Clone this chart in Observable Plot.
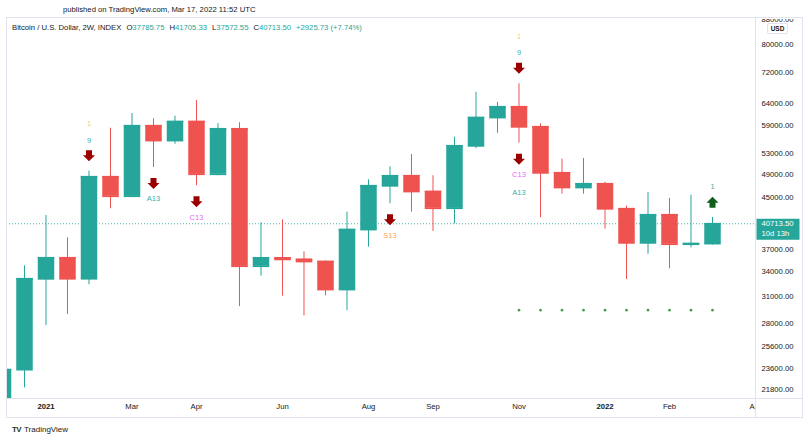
<!DOCTYPE html>
<html><head><meta charset="utf-8">
<script src="https://cdn.jsdelivr.net/npm/d3@7"></script>
<script src="https://cdn.jsdelivr.net/npm/@observablehq/plot@0.6"></script>
<style>
body{margin:0;background:#fff;font-family:"Liberation Sans",Arial,sans-serif;color:#131722}
#wrap{position:relative;width:808px;height:440px;overflow:hidden;background:#fff}
#chart{position:absolute;left:0;top:0}
.abs{position:absolute;white-space:nowrap}
#pub{left:63px;top:5px;font-size:7.7px;line-height:10px;color:#131722}
#legend{left:12px;top:23px;font-size:7.7px;line-height:10px;display:flex;gap:5px}
#legend .v{color:#26a69a}
#usd{left:767px;top:23px;width:21px;height:11px;box-sizing:border-box;border:1px solid #e0e3eb;border-radius:2px;background:#fff;font-size:6.5px;font-weight:bold;text-align:center;line-height:9px;color:#131722}
#logo{left:12px;top:425px;font-size:8px;line-height:10px;color:#131722}
#logo b{letter-spacing:-0.6px;margin-right:3px;color:#1b3a2a}
</style></head><body>
<div id="wrap">
  <div id="chart"></div>
  <div class="abs" style="left:756px;top:0;width:50px;height:19px;background:#fff"></div>
  <div class="abs" style="left:756px;top:399px;width:46px;height:18px;background:#fff"></div>
  <div class="abs" style="left:6px;top:17px;width:797px;height:401px;box-sizing:border-box;border:1px solid #e0e3eb"></div>
  <div class="abs" style="left:755px;top:17px;width:1px;height:400px;background:#e0e3eb"></div>
  <div class="abs" style="left:6px;top:398px;width:796px;height:1px;background:#e0e3eb"></div>
  <div class="abs" id="pub">published on TradingView.com, Mar 17, 2022 11:52 UTC</div>
  <div class="abs" id="legend"></div>
  <div class="abs" id="usd">USD</div>
  <div class="abs" id="logo"><b>TV</b>TradingView</div>
</div>
<script>
// ---- data (2-week candles, Bitcoin / U.S. Dollar INDEX) ----
const dates = ["2020-12-07","2020-12-21","2021-01-04","2021-01-18","2021-02-01","2021-02-15","2021-03-01","2021-03-15","2021-03-29","2021-04-12","2021-04-26","2021-05-10","2021-05-24","2021-06-07","2021-06-21","2021-07-05","2021-07-19","2021-08-02","2021-08-16","2021-08-30","2021-09-13","2021-09-27","2021-10-11","2021-10-25","2021-11-08","2021-11-22","2021-12-06","2021-12-20","2022-01-03","2022-01-17","2022-01-31","2022-02-14","2022-02-28","2022-03-14"];
const opens  = [19150,23500,33090,35810,33100,48600,45170,58900,55710,59850,49070,58220,34700,35800,35600,35320,31780,39840,46980,48780,45980,43170,54610,60760,63260,58670,49330,46680,47330,43080,37890,42110,37700,37785.75];
const highs  = [23600,34750,42000,38600,49630,58360,61680,60470,61060,64780,59400,59570,40860,41330,36630,35400,42530,48050,50470,52850,48780,56410,66830,64290,68990,59340,51930,52060,47600,43500,45800,44780,45340,41705.33];
const lows   = [17600,21940,27750,28930,32350,43080,45000,50320,54940,46980,48780,29800,33420,30990,28780,31040,29330,37270,43890,42530,39550,40700,54000,57270,55150,41640,45510,45510,39890,33000,36300,34360,37190,37572.55];
const closes = [23500,33090,35810,33100,48600,45170,58900,55710,59850,49070,58220,34700,35800,35600,35320,31780,39840,46980,48780,45980,43170,54610,60760,63260,58670,49330,46680,47330,43080,37890,42110,37700,37787.77,40713.50];

// TD-sequential style annotations (candle indices)
const setupOrangeIdx = [4, 24];        // small orange "1"
const setupNineIdx = [4, 24];          // teal "9"
const sellArrowAboveIdx = [4, 24];
const sellArrowBelowIdx = [7, 9, 18, 24];
const countdownIdx = [7, 9, 18, 24, 24];
const countdownText = ["A13", "C13", "S13", "C13", "A13"];
const buyArrowIdx = [33];
const buyCountText = ["1"];
const dotIdx = [24, 25, 26, 27, 28, 29, 30, 31, 32, 33];
const dotLevel = 29400;

// axis ticks
const yTicks = [21800, 23600, 25600, 28000, 31000, 34000, 37000, 45000, 49000, 53000, 59000, 64000, 72000, 80000, 88000];
const xTickDates = ["2021-01-04","2021-03-01","2021-04-12","2021-06-07","2021-08-02","2021-09-13","2021-11-08","2022-01-03","2022-02-14","2022-04-11"];
const xTickLabels = ["2021","Mar","Apr","Jun","Aug","Sep","Nov","2022","Feb","Apr"];
const remainingText = "10d 13h";

// ---- build ----
const GREEN = "#26a69a", RED = "#ef5350", TEAL_T = "#3aaea3", PURPLE = "#dd6ff3", ORANGE = "#ffa64d";
const candles = dates.map((d, i) => ({i, date: new Date(d), open: opens[i], high: highs[i], low: lows[i], close: closes[i]}));
const ups = candles.filter(c => c.close >= c.open);
const downs = candles.filter(c => c.close < c.open);
const last = candles[candles.length - 1];
const prev = candles[candles.length - 2];

const fmt = d3.format(".2f");
const chg = last.close - prev.close;
document.getElementById("legend").innerHTML =
  `<span>Bitcoin / U.S. Dollar, 2W, INDEX</span>` +
  `<span>O<span class="v">${fmt(last.open)}</span></span>` +
  `<span>H<span class="v">${fmt(last.high)}</span></span>` +
  `<span>L<span class="v">${fmt(last.low)}</span></span>` +
  `<span>C<span class="v">${fmt(last.close)}</span></span>` +
  `<span class="v">${chg >= 0 ? "+" : ""}${fmt(chg)} (${chg >= 0 ? "+" : ""}${fmt(chg / prev.close * 100)}%)</span>`;

const arrowDown = {draw(ctx) {
  ctx.moveTo(-3, -5.5); ctx.lineTo(3, -5.5); ctx.lineTo(3, -0.5); ctx.lineTo(6, -0.5);
  ctx.lineTo(0, 5.5); ctx.lineTo(-6, -0.5); ctx.lineTo(-3, -0.5); ctx.closePath();
}};
const arrowUp = {draw(ctx) {
  ctx.moveTo(-3, 5.5); ctx.lineTo(3, 5.5); ctx.lineTo(3, 0.5); ctx.lineTo(6, 0.5);
  ctx.lineTo(0, -5.5); ctx.lineTo(-6, 0.5); ctx.lineTo(-3, 0.5); ctx.closePath();
}};
const bodyBar = {draw(ctx) { ctx.rect(-8.25, -0.9, 16.5, 1.8); }};
const priceBox = {draw(ctx) { ctx.rect(1, -5, 43, 21); }};

const byIdx = idx => idx.map(i => candles[i]);
const countdown = countdownIdx.map((i, k) => ({
  date: candles[i].date, low: candles[i].low, text: countdownText[k],
  row: countdownIdx.slice(0, k).filter(j => j === i).length
}));
const cdColor = t => t[0] === "A" ? TEAL_T : t[0] === "C" ? PURPLE : ORANGE;
const xTicks = xTickDates.map((d, k) => ({date: new Date(d), label: xTickLabels[k]}));

const candleMarks = (data, color) => [
  Plot.ruleX(data, {x: "date", y1: "low", y2: "high", stroke: color, strokeWidth: 1, clip: true}),
  Plot.ruleX(data, {x: "date", y1: "open", y2: "close", stroke: color, strokeWidth: 16.5, clip: true}),
  Plot.dot(data, {x: "date", y: "close", symbol: bodyBar, fill: color, stroke: "none", clip: true}),
  Plot.dot(data, {x: "date", y: "open", symbol: bodyBar, fill: color, stroke: "none", clip: true})
];

const countdownMarks = [0, 1].map(row =>
  Plot.text(countdown.filter(d => d.row === row), {
    x: "date", y: "low", dy: 31.5 + row * 17.5, text: "text", fill: d => cdColor(d.text), fontSize: 7.5
  })
);

const chart = Plot.plot({
  width: 808, height: 440,
  marginLeft: 6, marginRight: 53, marginTop: 17, marginBottom: 42,
  x: {type: "utc", domain: [new Date("2020-12-09T06:42:00Z"), new Date("2022-04-11T00:00:00Z")], axis: null},
  y: {type: "log", domain: [21076, 88567], axis: null},
  color: {type: "identity"},
  style: {fontFamily: "'Liberation Sans', Arial, sans-serif", fontSize: "7.7px", color: "#131722", background: "white"},
  marks: [
    Plot.ruleY([last.close], {stroke: GREEN, strokeDasharray: "1,2", strokeOpacity: 0.85}),
    ...candleMarks(ups, GREEN),
    ...candleMarks(downs, RED),
    // indicator dots
    Plot.dot(dotIdx.map(i => candles[i]), {x: "date", y: () => dotLevel, r: 1.3, fill: "#43a047", stroke: "none"}),
    // sell arrows above highs
    Plot.dot(byIdx(sellArrowAboveIdx), {x: "date", y: "high", dy: -15.5, symbol: arrowDown, fill: "#9b0000", stroke: "none"}),
    Plot.text(byIdx(setupNineIdx), {x: "date", y: "high", dy: -31, text: () => "9", fill: TEAL_T, fontSize: 7.5}),
    Plot.text(byIdx(setupOrangeIdx), {x: "date", y: "high", dy: -47, text: () => "1", fill: ORANGE, fontSize: 6.5, fillOpacity: 0.8}),
    // sell arrows below lows
    Plot.dot(byIdx(sellArrowBelowIdx), {x: "date", y: "low", dy: 16, symbol: arrowDown, fill: "#9b0000", stroke: "none"}),
    ...countdownMarks,
    // buy arrow
    Plot.dot(byIdx(buyArrowIdx), {x: "date", y: "high", dy: -15, symbol: arrowUp, fill: "#0f5e1a", stroke: "none"}),
    Plot.text(byIdx(buyArrowIdx), {x: "date", y: "high", dy: -31, text: (d, k) => buyCountText[k], fill: TEAL_T, fontSize: 7.5}),
    // y axis on the right
    Plot.axisY(yTicks, {anchor: "right", tickSize: 0, tickPadding: 6, tickFormat: fmt, label: null}),
    // current price box
    Plot.dot([last], {y: "close", frameAnchor: "right", symbol: priceBox, fill: GREEN, stroke: "none"}),
    Plot.text([last], {y: "close", frameAnchor: "right", dx: 6, textAnchor: "start", text: d => fmt(d.close), fill: "white"}),
    Plot.text([last], {y: "close", frameAnchor: "right", dx: 6, dy: 10, textAnchor: "start", text: () => remainingText, fill: "white"}),
    // x axis labels
    Plot.text(xTicks.filter(t => /^\d{4}$/.test(t.label)), {x: "date", text: "label", frameAnchor: "bottom", dy: 10, fontWeight: "bold"}),
    Plot.text(xTicks.filter(t => !/^\d{4}$/.test(t.label)), {x: "date", text: "label", frameAnchor: "bottom", dy: 10})
  ]
});
document.getElementById("chart").appendChild(chart);
</script>
</body></html>
